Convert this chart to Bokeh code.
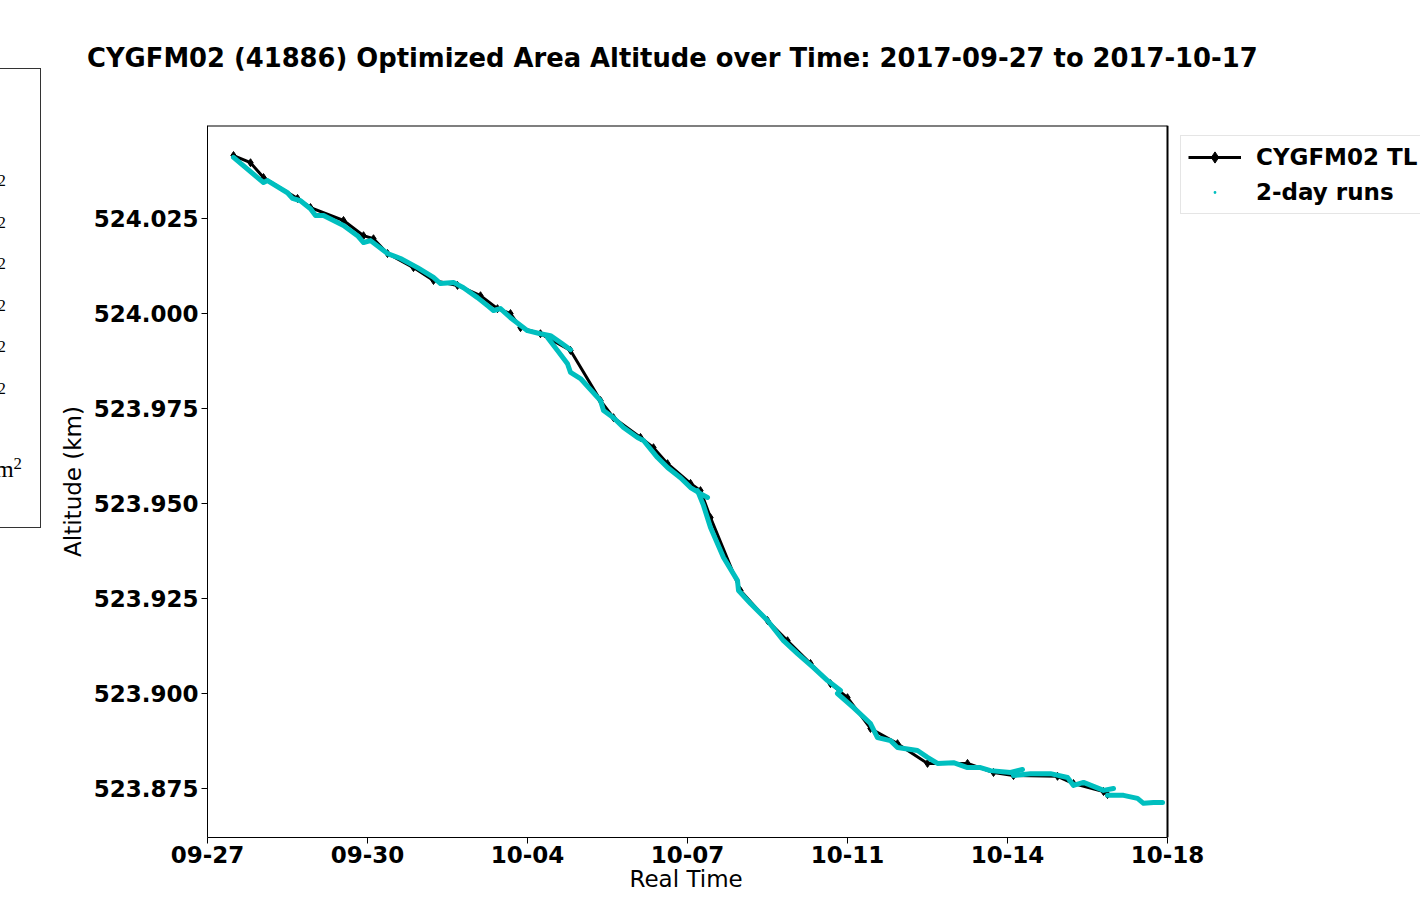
import numpy as np
import pandas as pd
from bokeh.plotting import figure
from bokeh.layouts import row, column
from bokeh.models import (FixedTicker, DatetimeTickFormatter, PrintfTickFormatter,
                          Legend, LegendItem, Range1d, Div, Title)
from bokeh.embed import file_html
from bokeh.resources import INLINE

# ---------------- data ----------------
START = "2017-09-27"
END = "2017-10-18"
TITLE = "CYGFM02 (41886) Optimized Area Altitude over Time: 2017-09-27 to 2017-10-17"

# CYGFM02 TL (days after 2017-09-27 00:00 UTC, altitude km)
tl_days = [0.569, 0.941, 1.225, 1.969, 2.253, 2.975, 3.413, 3.631, 3.938, 4.506, 4.944,
           5.469, 5.972, 6.344, 6.628, 6.847, 7.284, 7.941, 8.597, 8.881, 9.472, 9.756,
           10.063, 10.566, 10.784, 11.003, 11.659, 12.25, 12.688, 13.191, 13.628, 14.0,
           14.503, 15.094, 15.75, 16.625, 17.194, 17.631, 18.594, 18.944, 19.6, 19.688]
tl_alt = [524.0416, 524.0397, 524.0358, 524.0303, 524.0279, 524.0245, 524.0205, 524.0197,
          524.0158, 524.0121, 524.0087, 524.0074, 524.0047, 524.0013, 524.0000, 523.9963,
          523.9947, 523.9903, 523.9771, 523.9726, 523.9674, 523.9647, 523.9605, 523.9553,
          523.9534, 523.9463, 523.9271, 523.9192, 523.9139, 523.9079, 523.9026, 523.8989,
          523.8908, 523.8868, 523.8816, 523.8816, 523.8792, 523.8784, 523.8782, 523.8763,
          523.8742, 523.8734]

# 2-day runs
run_a_days = [0.569, 1.094, 1.225, 1.313, 1.75, 1.859, 2.034, 2.253, 2.363, 2.538, 2.975,
              3.281, 3.413, 3.566, 3.938, 4.222, 4.594, 4.944, 5.097, 5.381, 5.6, 5.906,
              6.125, 6.256, 6.409, 6.628, 7.0, 7.284, 7.503, 7.722, 7.941]
run_a_alt = [524.0411, 524.0358, 524.0345, 524.0350, 524.0318, 524.0303, 524.0297, 524.0276,
             524.0258, 524.0258, 524.0232, 524.0205, 524.0187, 524.0192, 524.0158, 524.0145,
             524.0121, 524.0095, 524.0079, 524.0082, 524.0068, 524.0042, 524.0021, 524.0008,
             524.0013, 523.9989, 523.9955, 523.9947, 523.9942, 523.9924, 523.9905]
run_b_days = [7.438, 7.656, 7.875, 7.941, 8.159, 8.597, 8.663, 8.881, 9.1, 9.406, 9.538,
              9.844, 10.063, 10.347, 10.566, 10.784, 10.938]
run_b_alt = [523.9937, 523.9903, 523.9868, 523.9845, 523.9829, 523.9771, 523.9745, 523.9726,
             523.9700, 523.9674, 523.9666, 523.9621, 523.9595, 523.9568, 523.9542, 523.9526,
             523.9516]
run_c_days = [10.719, 10.85, 11.003, 11.288, 11.594, 11.616, 11.878, 12.25, 12.6, 12.906,
              13.256, 13.563, 13.847]
run_c_alt = [523.9534, 523.9495, 523.9437, 523.9358, 523.9297, 523.9271, 523.9237, 523.9192,
             523.9139, 523.9105, 523.9068, 523.9034, 523.9008]
run_d_days = [13.781, 14.131, 14.503, 14.656, 14.941, 15.094, 15.531, 15.75, 15.969, 16.319,
              16.625, 16.909, 17.128, 17.566, 17.828]
run_d_alt = [523.9000, 523.8963, 523.8921, 523.8884, 523.8876, 523.8858, 523.8850, 523.8832,
             523.8816, 523.8818, 523.8805, 523.8805, 523.8797, 523.8792, 523.8800]
run_e_days = [17.631, 18.003, 18.441, 18.813, 18.944, 19.163, 19.6, 19.819]
run_e_alt = [523.8784, 523.8789, 523.8789, 523.8779, 523.8758, 523.8766, 523.8745, 523.8750]
run_f_days = [19.688, 20.038, 20.344, 20.475, 20.694, 20.891]
run_f_alt = [523.8732, 523.8732, 523.8724, 523.8711, 523.8713, 523.8713]

x_tick_days = [0, 3.5, 7, 10.5, 14, 17.5, 21]
x_tick_labels = ["09-27", "09-30", "10-04", "10-07", "10-11", "10-14", "10-18"]
y_ticks = [523.875, 523.900, 523.925, 523.950, 523.975, 524.000, 524.025]
y_min, y_max = 523.8621, 524.0495

# ---------------- helpers ----------------
t0_ms = pd.Timestamp(START).value / 1e6
t1_ms = pd.Timestamp(END).value / 1e6
DAY_MS = 86400000.0


def to_ms(days):
    return [t0_ms + d * DAY_MS for d in days]


runs_days = [run_a_days, run_b_days, run_c_days, run_d_days, run_e_days, run_f_days]
runs_alt = [run_a_alt, run_b_alt, run_c_alt, run_d_alt, run_e_alt, run_f_alt]

FONT = "DejaVu Sans"
CYAN = "#00BFBF"

# layout geometry (pixels)
LEFT_W = 42          # cropped neighbour box on the left
TITLE_H = 90
BORDER_L, BORDER_T, BORDER_B = 165, 35, 80
AX_W, AX_H = 960, 712            # axes box
FRAME_W = 1420 - LEFT_W - BORDER_L   # drawing area reaches the right edge (legend sits there)
x_view_end = t0_ms + (t1_ms - t0_ms) * FRAME_W / AX_W

# ---------------- main figure ----------------
p = figure(width=BORDER_L + FRAME_W, height=BORDER_T + AX_H + BORDER_B,
           x_axis_type="datetime",
           x_range=Range1d(t0_ms, x_view_end),
           y_range=Range1d(y_min, y_max),
           output_backend="svg", toolbar_location=None,
           min_border_left=BORDER_L, min_border_right=0, min_border_top=BORDER_T,
           min_border_bottom=BORDER_B,
           background_fill_color="white", border_fill_color="white")
p.title.visible = False
p.outline_line_color = None
p.grid.visible = False

# axes box: top and right spines (left/bottom are the axis lines)
p.segment(x0=[t0_ms, t1_ms], y0=[y_max, y_min], x1=[t1_ms, t1_ms], y1=[y_max, y_max],
          line_color="black", line_width=2)

tl_line = p.line(to_ms(tl_days), tl_alt, line_color="black", line_width=3)
tl_pts = p.scatter(to_ms(tl_days), tl_alt, marker="diamond", size=8, color="black")

p.multi_line([to_ms(d) for d in runs_days], runs_alt, line_color=CYAN, line_width=5,
             line_join="round", line_cap="round")
all_run_days = [d for r in runs_days for d in r]
all_run_alt = [a for r in runs_alt for a in r]
runs_pts = p.scatter(to_ms(all_run_days), all_run_alt, marker="dot", size=12,
                     line_color=CYAN, fill_color=CYAN, line_width=3)

# axes
p.xaxis.ticker = FixedTicker(ticks=to_ms(x_tick_days))
p.xaxis.bounds = (t0_ms, t1_ms)
fmt = "%m-%d"
p.xaxis.formatter = DatetimeTickFormatter(microseconds=fmt, milliseconds=fmt, seconds=fmt,
                                          minsec=fmt, minutes=fmt, hourmin=fmt, hours=fmt,
                                          days=fmt, months=fmt, years=fmt)
p.yaxis.ticker = FixedTicker(ticks=y_ticks)
p.yaxis.formatter = PrintfTickFormatter(format="%.3f")

for ax in (p.xaxis[0], p.yaxis[0]):
    ax.major_label_text_font = FONT
    ax.major_label_text_font_style = "bold"
    ax.major_label_text_font_size = "23px"
    ax.major_label_text_color = "black"
    ax.major_tick_out = 6
    ax.major_tick_in = 0
    ax.minor_tick_out = 0
    ax.minor_tick_in = 0
    ax.axis_line_color = "black"
    ax.major_tick_line_color = "black"
    ax.axis_label_text_font = FONT
    ax.axis_label_text_font_style = "normal"
    ax.axis_label_text_font_size = "23px"
    ax.axis_label_text_color = "black"

p.yaxis.axis_label = "Altitude (km)"
p.xaxis.major_label_standoff = 2
p.yaxis.major_label_standoff = 3
p.yaxis.axis_label_standoff = 5

# x-axis label, centred under the axes box (not under the wider drawing area)
xlab = Title(text="Real Time", align="left", offset=422, standoff=-3,
             text_font=FONT, text_font_style="normal", text_font_size="23px",
             text_color="black")
p.add_layout(xlab, "below")

# legend, just right of the axes box, running off the right edge as in the source
legend = Legend(items=[LegendItem(label="CYGFM02 TL", renderers=[tl_line, tl_pts]),
                       LegendItem(label="2-day runs", renderers=[runs_pts])],
                location=(AX_W + 13, AX_H - 12 - 77), orientation="vertical",
                label_text_font=FONT, label_text_font_style="bold",
                label_text_font_size="23px", label_text_color="black",
                glyph_width=53, glyph_height=28, label_height=28, label_standoff=15,
                padding=7, spacing=7, margin=0,
                border_line_color="#cccccc", border_line_width=1,
                background_fill_color="white", background_fill_alpha=0.8)
p.add_layout(legend)

# ---------------- title ----------------
title_div = Div(
    text=('<div style="position:relative;width:1378px;height:90px;">'
          '<span style="position:absolute;left:45px;top:43px;white-space:nowrap;'
          'font-family:\'DejaVu Sans\';font-weight:bold;font-size:25.8px;line-height:30px;'
          f'color:#000;">{TITLE}</span></div>'),
    width=1420 - LEFT_W, height=TITLE_H, margin=(0, 0, 0, 0))

# ---------------- left fragment (cropped neighbouring legend box) ----------------
frag_rows_top = [174, 216, 257, 299, 340, 382]
TXT = ('position:absolute;line-height:24px;font-family:\'Liberation Serif\',serif;'
       'font-size:24px;color:#000;white-space:nowrap;')
SUP = '<sup style="font-size:70%;vertical-align:0.45em;line-height:0;">2</sup>'
spans = "".join(f'<span style="{TXT}right:36px;top:{t}px;">m{SUP}</span>'
                for t in frag_rows_top)
frag_html = (
    '<div style="position:relative;width:42px;height:900px;overflow:hidden;background:white;">'
    '<div style="position:absolute;left:-30px;top:68px;width:71px;height:460px;'
    'border:1px solid #333;box-sizing:border-box;"></div>'
    + spans +
    f'<span style="{TXT}right:20px;top:457px;">m{SUP}</span>'
    '</div>')
frag = Div(text=frag_html, width=LEFT_W, height=900, margin=(0, 0, 0, 0))

layout = row(frag, column(title_div, p, spacing=0), spacing=0)

open("out.html", "w").write(file_html(layout, INLINE))
